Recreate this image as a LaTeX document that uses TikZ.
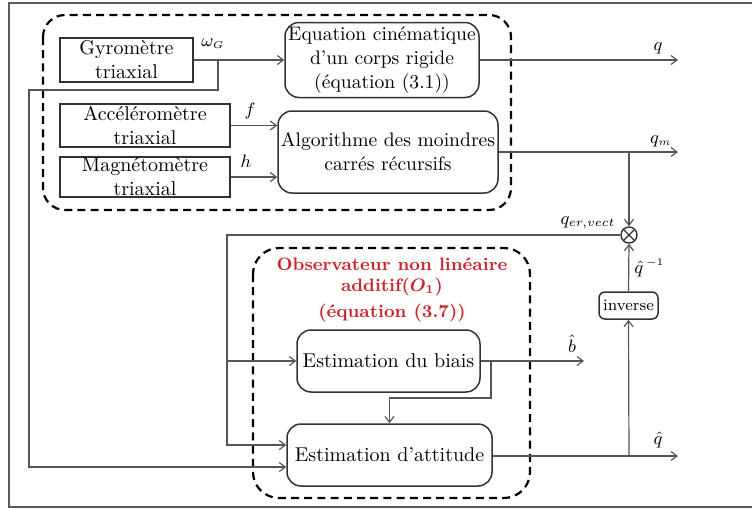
\documentclass[tikz,border=0pt]{standalone}
\usepackage{bm}
\usetikzlibrary{arrows.meta,calc}
\definecolor{lin}{RGB}{85,85,85}
\definecolor{bord}{RGB}{50,50,50}
\definecolor{titred}{RGB}{205,35,45}
\begin{document}
\begin{tikzpicture}[x=0.5pt,y=-0.5pt,
  every node/.style={font=\fontsize{10}{12}\selectfont, inner sep=0pt},
  sqbox/.style={draw=bord, line width=0.75pt, align=center, minimum width=#1},
  rbox/.style={draw=bord, line width=0.75pt, rounded corners=7pt, align=center},
  conn/.style={draw=lin, line width=0.6pt},
  arr/.style={conn, -{Straight Barb[length=3pt,width=4.5pt]}},
  grp/.style={draw=black, line width=1.1pt, dash pattern=on 4pt off 2.6pt},
  lbl/.style={font=\fontsize{9}{10}\selectfont}
]
\useasboundingbox (0,0) rectangle (752,509);
% outer frame (cut at right)
\draw[draw=bord!80, line width=1.1pt] (752,3) -- (9,3) -- (9,507) -- (752,507);

% dashed groups
\draw[grp, rounded corners=11pt] (43,15) rectangle (511,210);
\draw[grp, rounded corners=13pt] (253,248) rectangle (530,498);

% sensor boxes
\node[sqbox=66.5pt, minimum height=22pt] (gyro) at (126.5,60) {Gyromètre\\triaxial};
\node[sqbox=85pt, minimum height=21.5pt] (acc) at (145,125.5) {Accéléromètre\\triaxial};
\node[sqbox=85pt, minimum height=20pt] (mag) at (145,177) {Magnétomètre\\triaxial};

% processing boxes
\node[rbox, minimum width=97pt, minimum height=37.5pt, font=\fontsize{9.8}{12}\selectfont] (eq) at (382,60) {Equation cinématique\\d'un corps rigide\\(équation (3.1))};
\node[rbox, minimum width=110pt, minimum height=41pt, font=\fontsize{9.8}{12}\selectfont] (algo) at (388,152) {Algorithme des moindres\\carrés récursifs};

\node[rbox, minimum width=91.5pt, minimum height=31pt] (biais) at (388.5,361) {Estimation du biais};
\node[rbox, minimum width=102.5pt, minimum height=31pt] (att) at (389.5,455) {Estimation d'attitude};
\node[rbox, rounded corners=3pt, minimum width=29.5pt, minimum height=13.5pt, font=\fontsize{8}{9}\selectfont] (inv) at (628.5,305.5) {inverse};

\node[draw=bord, line width=0.7pt, circle, minimum size=8pt] (mul) at (629,235) {};
\draw[bord, line width=0.7pt] ($(mul.center)+(-5.6,-5.6)$) -- ($(mul.center)+(5.6,5.6)$)
  ($(mul.center)+(-5.6,5.6)$) -- ($(mul.center)+(5.6,-5.6)$);

% red title
\node[text=titred, font=\fontsize{9}{10.5}\selectfont\bfseries, align=center] (titre) at (392,290)
  {Observateur non linéaire\\additif($\bm{O_1}$)\\[2.5pt](équation (3.7))};

% coordinates
\coordinate (wb) at (218,60);
\coordinate (wd) at (218,90);
\coordinate (wl) at (29,90);
\coordinate (qend) at (678,60);
\coordinate (qmend) at (678,152);
\coordinate (qmb) at (629,152);
\coordinate (el) at (227,235);
\coordinate (bend) at (584,361);
\coordinate (bb) at (491,361);
\coordinate (bd) at (491,398);
\coordinate (qhend) at (678,456);
\coordinate (qhb) at (629,456);

% connectors
\draw[arr] (gyro.east) -- (eq.west |- gyro.east);
\draw[arr] (wb) -- (wd) -- (wl) |- ($(att.west)+(0,12)$);
\draw[arr] (acc.east) -- (algo.west |- acc.east);
\draw[arr] (mag.east) -- (algo.west |- mag.east);
\draw[arr] (eq.east) -- (qend);
\draw[arr] (algo.east) -- (qmend);
\draw[arr] (qmb) -- (mul.north);
\draw[conn] (mul.west) -- (el) -- (el |- biais.west);
\draw[arr] (el |- biais.west) -- (biais.west);
\draw[arr] (el |- biais.west) |- ($(att.west)+(0,-10)$);
\draw[arr] (biais.east) -- (bend);
\draw[arr] (bb) -- (bd) -| (att.north);
\draw[arr] ($(att.east)+(0,1)$) -- (qhend);
\draw[arr] (qhb) -- (inv.south);
\draw[arr] (inv.north) -- (mul.south);

% labels
\node[lbl] at (213,44) {$\omega_{\scriptscriptstyle G}$};
\node[lbl] at (250,111) {$f$};
\node[lbl] at (246,161) {$h$};
\node[lbl] at (658,48) {$q$};
\node[lbl] at (661,141) {$q_{\scriptscriptstyle m}$};
\node[lbl] at (588,223) {$q_{er,vect}$};
\node[lbl] at (572,344) {$\hat{b}$};
\node[lbl] at (658,440) {$\hat{q}$};
\node[lbl, anchor=west] at (634,268) {${\hat{q}}^{\,\scriptscriptstyle -1}$};
\end{tikzpicture}
\end{document}
